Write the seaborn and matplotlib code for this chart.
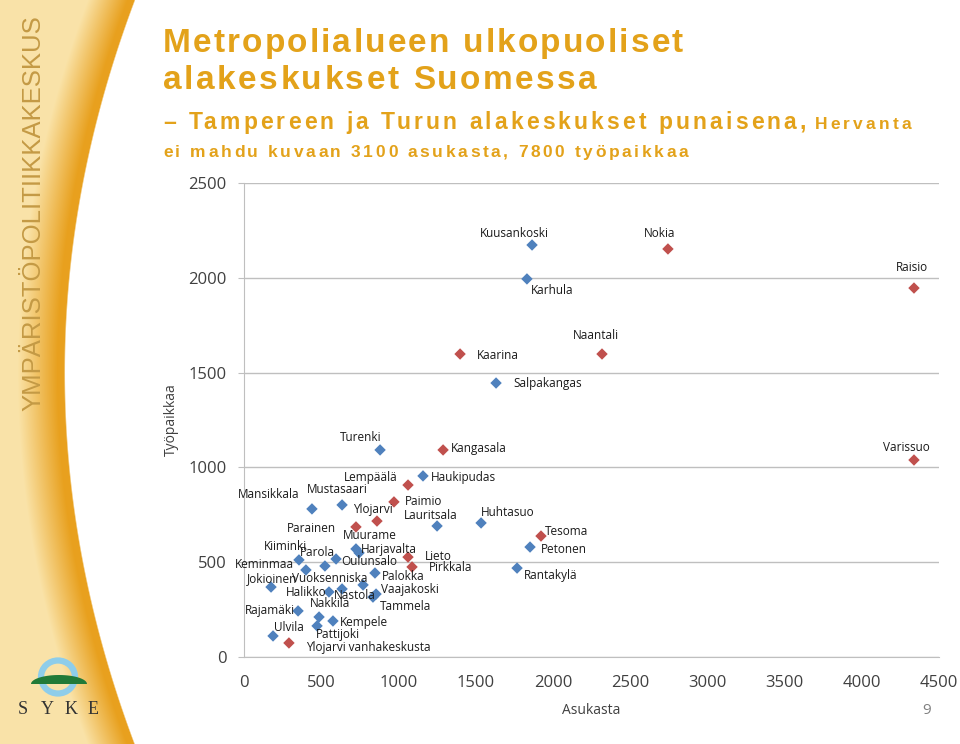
import numpy as np
import pandas as pd
import matplotlib.pyplot as plt
import seaborn as sns
from matplotlib.patches import Ellipse, Polygon

# Alakeskukset: asukkaat (x) ja työpaikat (y)
muut_nimet = ['Kuusankoski', 'Karhula', 'Salpakangas', 'Turenki', 'Haukipudas',
              'Mansikkala', 'Mustasaari', 'Lauritsala', 'Huhtasuo', 'Petonen',
              'Rantakylä', 'Kiiminki', 'Keminmaa', 'Parola', 'Oulunsalo',
              'Muurame', 'Harjavalta', 'Jokioinen', 'Halikko', 'Nastola',
              'Vuoksenniska', 'Palokka', 'Vaajakoski', 'Tammela', 'Rajamäki',
              'Nakkila', 'Kempele', 'Pattijoki', 'Ulvila']
muut_asukkaat = [1865, 1832, 1632, 881, 1159, 440, 635, 1250, 1535, 1852,
                 1768, 356, 401, 524, 596, 725, 745, 175, 550, 635,
                 771, 848, 855, 835, 350, 486, 576, 473, 188]
muut_tyopaikat = [2173, 1994, 1445, 1092, 955, 781, 802, 691, 707, 580,
                  469, 512, 459, 480, 517, 570, 549, 369, 343, 359,
                  380, 443, 332, 316, 243, 211, 190, 164, 111]

# Tampereen ja Turun alakeskukset (punaisella)
tt_nimet = ['Nokia', 'Raisio', 'Naantali', 'Kaarina', 'Kangasala', 'Varissuo',
            'Tesoma', 'Lempäälä', 'Paimio', 'Ylojarvi', 'Parainen', 'Lieto',
            'Pirkkala', 'Ylojarvi vanhakeskusta']
tt_asukkaat = [2745, 4338, 2318, 1399, 1289, 4338, 1923, 1062, 971, 861, 725,
               1062, 1088, 291]
tt_tyopaikat = [2152, 1946, 1598, 1598, 1092, 1039, 638, 907, 818, 717, 686,
                527, 475, 74]

x_ticks = [0, 500, 1000, 1500, 2000, 2500, 3000, 3500, 4000, 4500]
y_ticks = [0, 500, 1000, 1500, 2000, 2500]

# nimien sijainti pisteeseen nähden (pikseleinä): dx, dy, tasaus
nimi_siirto = {
    'Kuusankoski': (-18, 11, 'center'), 'Nokia': (-8, 15, 'center'),
    'Raisio': (-2, 21, 'center'), 'Karhula': (25, -12, 'center'),
    'Naantali': (-6, 19, 'center'), 'Kaarina': (17, -1, 'left'),
    'Salpakangas': (17, 0, 'left'), 'Turenki': (-19, 12, 'center'),
    'Kangasala': (8, 1, 'left'), 'Varissuo': (-8, 13, 'center'),
    'Haukipudas': (8, -2, 'left'), 'Lempäälä': (-37, 8, 'center'),
    'Mansikkala': (-43, 14, 'center'), 'Mustasaari': (-5, 15, 'center'),
    'Paimio': (11, 0, 'left'), 'Ylojarvi': (-4, 12, 'center'),
    'Lauritsala': (-6, 10, 'center'), 'Huhtasuo': (27, 10, 'center'),
    'Tesoma': (4, 5, 'left'), 'Petonen': (11, -2, 'left'),
    'Rantakylä': (7, -7, 'left'), 'Parainen': (-20, -2, 'right'),
    'Muurame': (14, 13, 'center'), 'Harjavalta': (30, 3, 'center'),
    'Kiiminki': (-14, 13, 'center'), 'Parola': (-7, 13, 'center'),
    'Oulunsalo': (5, -3, 'left'), 'Lieto': (17, 1, 'left'),
    'Pirkkala': (17, -1, 'left'), 'Keminmaa': (-12, 5, 'right'),
    'Jokioinen': (1, 8, 'center'), 'Vuoksenniska': (-33, 6, 'center'),
    'Palokka': (7, -3, 'left'), 'Vaajakoski': (5, 5, 'left'),
    'Halikko': (-23, -1, 'center'), 'Nastola': (13, -7, 'center'),
    'Tammela': (7, -9, 'left'), 'Rajamäki': (-28, 0, 'center'),
    'Nakkila': (11, 13, 'center'), 'Kempele': (7, -2, 'left'),
    'Ulvila': (16, 8, 'center'), 'Pattijoki': (21, -9, 'center'),
    'Ylojarvi vanhakeskusta': (17, -5, 'left'),
}

df = pd.concat([
    pd.DataFrame({'nimi': muut_nimet, 'asukasta': muut_asukkaat,
                  'tyopaikkaa': muut_tyopaikat, 'ryhma': 'muut'}),
    pd.DataFrame({'nimi': tt_nimet, 'asukasta': tt_asukkaat,
                  'tyopaikkaa': tt_tyopaikat, 'ryhma': 'tt'}),
], ignore_index=True)

sns.set_style('white')
plt.rcParams['font.family'] = ['Open Sans', 'DejaVu Sans']

fig = plt.figure(figsize=(9.6, 7.44), dpi=100)
W, H = 960, 744
renderer = fig.canvas.get_renderer()
otsikko_vari = '#E3A21A'


def leveys(txt, koko):
    t = fig.text(0, 0, txt, fontsize=koko, fontweight='bold', family='Liberation Sans')
    w = t.get_window_extent(renderer).width
    t.remove()
    return w


def harva_teksti(x0, baseline, s, koko, kokoleveys):
    # kirjain kerrallaan, jotta saadaan harvennus kuten alkuperäisessä
    luonnollinen = leveys(s, koko)
    vali = (kokoleveys - luonnollinen) / (len(s) - 1)
    for i, ch in enumerate(s):
        if ch == ' ':
            continue
        alku = leveys(s[:i + 1], koko) - leveys(ch, koko)
        fig.text((x0 + alku + i * vali) / W, 1 - baseline / H, ch, fontsize=koko,
                 fontweight='bold', family='Liberation Sans', color=otsikko_vari,
                 va='baseline', ha='left')


# taustan reunapalkki
bg = fig.add_axes([0, 0, 1, 1], zorder=-1)
yy, xx = np.mgrid[0:H, 0:W]
reuna = 65 + 70 * ((yy - 372) / 372.0) ** 2
d = reuna - xx
oranssi = np.array([0.91, 0.63, 0.12])
beige = np.array([0.98, 0.89, 0.66])
t = np.clip((d - 8) / 40.0, 0, 1)[..., None]
vari = oranssi * (1 - t) + beige * t
a = np.clip(d / 1.5, 0, 1)[..., None]
img = vari * a + 1.0 * (1 - a)
bg.imshow(img, extent=(0, W, H, 0), aspect='auto', interpolation='bilinear')
bg.set_xlim(0, W)
bg.set_ylim(H, 0)
bg.axis('off')

bg.text(33, 213, 'YMPÄRISTÖPOLITIIKKAKESKUS', rotation=90, ha='center', va='center',
        fontsize=18.5, color='#C49A45', family=['Liberation Sans Narrow', 'Liberation Sans'])

# SYKE-logo
bg.add_patch(Ellipse((58, 677), 34, 33, fill=False, lw=4.5, ec='#8ECDEA'))
tt = np.linspace(0, np.pi, 40)
bg.add_patch(Polygon(np.column_stack([59 + 28 * np.cos(tt), 684 - 9 * np.sin(tt)]),
                     closed=True, fc='#217A38', ec='none'))
for kirjain, kx in zip('SYKE', [23, 47, 71, 93]):
    bg.text(kx, 709, kirjain, ha='center', va='center', fontsize=13,
            color='#333333', family=['Liberation Serif', 'DejaVu Serif'])

# otsikot
harva_teksti(163, 52, 'Metropolialueen ulkopuoliset', 24, 520)
harva_teksti(163, 89, 'alakeskukset Suomessa', 24, 434)
harva_teksti(163, 129, '– Tampereen ja Turun alakeskukset punaisena,', 16.5, 643)
harva_teksti(815, 129, 'Hervanta', 12.5, 96)
harva_teksti(163, 157, 'ei mahdu kuvaan 3100 asukasta, 7800 työpaikkaa', 12.5, 525)

fig.text(927 / W, 1 - 710 / H, '9', fontsize=11, color='#808080', ha='center', va='center')

# kuvaaja
ax = fig.add_axes([244 / W, 1 - 657 / H, 695 / W, 474 / H])
sns.scatterplot(data=df, x='asukasta', y='tyopaikkaa', hue='ryhma',
                palette={'muut': '#4F81BD', 'tt': '#C0504D'}, marker='D',
                s=34, linewidth=0, legend=False, ax=ax, zorder=3)

for _, r in df.iterrows():
    dx, dy, ha = nimi_siirto[r['nimi']]
    ax.annotate(r['nimi'], (r['asukasta'], r['tyopaikkaa']), xytext=(dx, dy),
                textcoords='offset pixels', ha=ha, va='center', fontsize=8.5,
                color='#1A1A1A', zorder=4)

ax.set_xlim(0, 4500)
ax.set_ylim(0, 2500)
ax.set_xticks(x_ticks)
ax.set_yticks(y_ticks)
ax.grid(axis='y', color='#BFBFBF', lw=1)
ax.grid(axis='x', visible=False)
for s in ['top', 'right']:
    ax.spines[s].set_visible(False)
ax.spines['left'].set_color('#BFBFBF')
ax.spines['bottom'].set_color('#BFBFBF')
ax.tick_params(axis='x', length=0, pad=13, labelsize=12, labelcolor='#404040')
ax.tick_params(axis='y', length=4.5, color='#BFBFBF', pad=8, labelsize=12,
               labelcolor='#404040', left=True)
ax.set_xlabel('Asukasta', fontsize=10, color='#404040')
ax.set_ylabel('Työpaikkaa', fontsize=10, color='#404040')
ax.xaxis.set_label_coords(0.5, -0.098)
ax.yaxis.set_label_coords(-0.093, 0.5)
ax.set_facecolor('none')

fig.savefig('out.png', dpi=100)
